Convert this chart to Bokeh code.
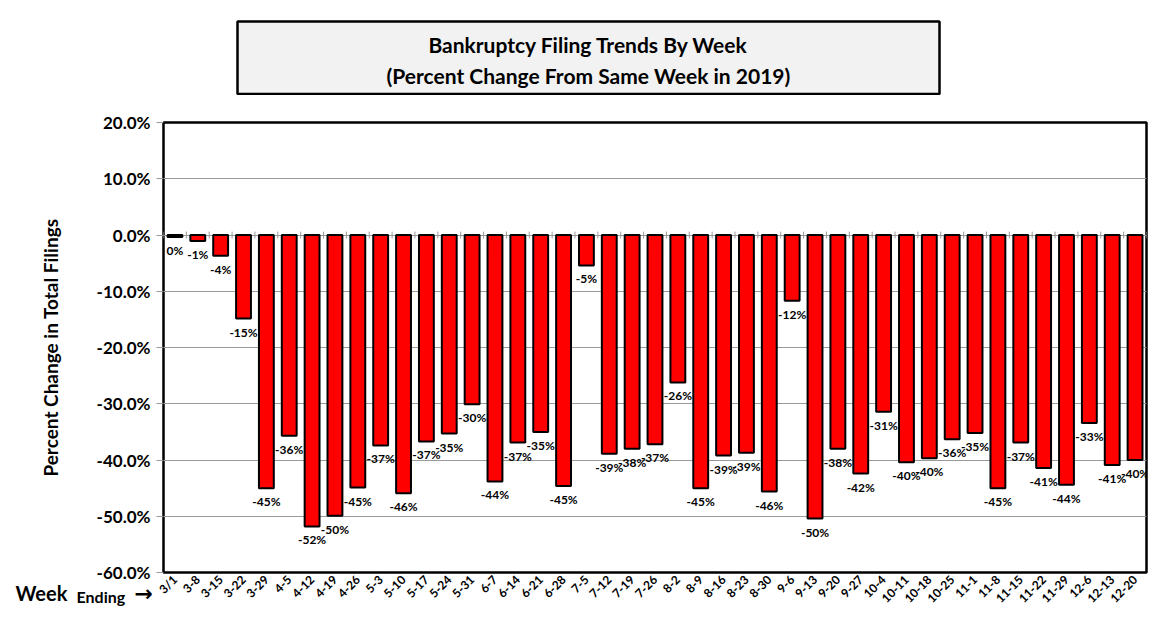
from bokeh.plotting import figure
from bokeh.layouts import column
from bokeh.models import (FactorRange, FixedTicker, PrintfTickFormatter, Range1d,
                          Label, ColumnDataSource)
from bokeh.core.properties import value
from bokeh.embed import file_html
from bokeh.resources import INLINE
import math

weeks = ["3/1", "3-8", "3-15", "3-22", "3-29", "4-5", "4-12", "4-19", "4-26",
         "5-3", "5-10", "5-17", "5-24", "5-31", "6-7", "6-14", "6-21", "6-28",
         "7-5", "7-12", "7-19", "7-26", "8-2", "8-9", "8-16", "8-23", "8-30",
         "9-6", "9-13", "9-20", "9-27", "10-4", "10-11", "10-18", "10-25",
         "11-1", "11-8", "11-15", "11-22", "11-29", "12-6", "12-13", "12-20"]
pct_change = [-0.35, -1.07, -3.7, -14.85, -45.0, -35.7, -51.8, -49.9, -44.9,
              -37.4, -45.9, -36.7, -35.3, -30.1, -43.8, -36.9, -35.0, -44.6,
              -5.4, -38.9, -38.0, -37.2, -26.2, -45.0, -39.2, -38.7, -45.6,
              -11.7, -50.4, -38.0, -42.4, -31.4, -40.4, -39.7, -36.3,
              -35.2, -45.0, -36.9, -41.4, -44.4, -33.4, -40.9, -40.0]
y_ticks = [-60, -50, -40, -30, -20, -10, 0, 10, 20]

title_lines = ["Bankruptcy Filing Trends By Week", "(Percent Change From Same Week in 2019)"]
y_title = "Percent Change in Total Filings"
note_words = ["Week", "Ending", "\u2192"]

labels = [f"{int(round(v))}%" for v in pct_change]

FONT = "Lato"
W = 1157
FRAME_L, FRAME_R = 163, 1146

# ---------------- title panel (separate small figure, frame aligned with chart) ----------------
TH = 95
t = figure(width=W, height=TH, x_range=Range1d(FRAME_L, FRAME_R), y_range=Range1d(TH, 0),
           output_backend="svg", toolbar_location=None,
           x_axis_location=None, y_axis_location=None, min_border=0)
t.grid.grid_line_color = None
t.outline_line_color = None
t.background_fill_color = "white"
t.border_fill_color = "white"
t.quad(left=[237], right=[939], top=[21], bottom=[93.5],
       fill_color="#f2f2f2", line_color="black", line_width=2.5)
t.text(x=[588, 588], y=[44, 75], text=title_lines, text_align="center",
       text_baseline="middle", text_font=value(FONT), text_font_style="bold",
       text_font_size="21px", text_color="black")

# ---------------- main chart ----------------
src = ColumnDataSource(dict(week=weeks, v=pct_change, lab=labels))

p = figure(width=W, height=633 - TH, x_range=FactorRange(*weeks, range_padding=0),
           y_range=Range1d(-60, 20), output_backend="svg", toolbar_location=None,
           min_border_left=FRAME_L, min_border_top=122 - TH, min_border_right=W - FRAME_R,
           min_border_bottom=61)
p.background_fill_color = "white"
p.border_fill_color = "white"
p.outline_line_color = "black"
p.outline_line_width = 2.5

p.xgrid.grid_line_color = None
p.ygrid.ticker = FixedTicker(ticks=y_ticks)
p.ygrid.grid_line_color = "#9a9a9a"
p.ygrid.grid_line_width = 1

p.yaxis.ticker = FixedTicker(ticks=y_ticks)
p.yaxis.formatter = PrintfTickFormatter(format="%.1f%%")
p.yaxis.axis_line_color = None
p.yaxis.major_tick_line_color = "#9a9a9a"
p.yaxis.major_tick_out = 7
p.yaxis.major_tick_in = 0
p.yaxis.minor_tick_line_color = None
p.yaxis.major_label_text_font = FONT
p.yaxis.major_label_text_font_style = "bold"
p.yaxis.major_label_text_font_size = "17px"
p.yaxis.major_label_text_color = "black"
p.yaxis.major_label_standoff = 6
p.yaxis.axis_label = y_title
p.yaxis.axis_label_text_font = FONT
p.yaxis.axis_label_text_font_style = "bold"
p.yaxis.axis_label_text_font_size = "19px"
p.yaxis.axis_label_text_color = "black"
p.yaxis.axis_label_standoff = 32

p.xaxis.axis_line_color = None
p.xaxis.major_tick_line_color = None
p.xaxis.major_tick_out = 0
p.xaxis.major_tick_in = 0
p.xaxis.minor_tick_line_color = None
p.xaxis.minor_tick_out = 0
p.xaxis.major_label_orientation = math.pi / 4
p.xaxis.major_label_text_font = FONT
p.xaxis.major_label_text_font_style = "bold"
p.xaxis.major_label_text_font_size = "12px"
p.xaxis.major_label_text_color = "black"
p.xaxis.major_label_standoff = 5

p.vbar(x="week", top="v", bottom=0, width=0.65, source=src,
       fill_color="#ff0000", line_color="black", line_width=2)

bounds = list(range(len(weeks) + 1))
p.segment(x0=bounds, y0=[-0.6] * len(bounds), x1=bounds, y1=[0.6] * len(bounds),
          line_color="#9a9a9a", line_width=1)

p.text(x="week", y="v", text="lab", source=src, text_align="center",
       text_baseline="top", y_offset=6, text_font=value(FONT),
       text_font_style="bold", text_font_size="12px", text_color="black")

# "Week Ending ->" note: labels live in side panels (not clipped), positioned in data units
px_per_cat = (FRAME_R - FRAME_L) / len(weeks)
px_per_pct = 450 / 80.0
def dx(page_x):
    return (page_x - FRAME_L) / px_per_cat
def dy(page_y):
    return -60 - (page_y - 572) / px_per_pct

p.add_layout(Label(x=dx(15), y=dy(592), text=note_words[0], text_align="left",
                   text_baseline="middle", text_font=FONT, text_font_style="bold",
                   text_font_size="20px", text_color="black"), "above")
p.add_layout(Label(x=dx(76), y=dy(596), text=note_words[1], text_align="left",
                   text_baseline="middle", text_font=FONT, text_font_style="bold",
                   text_font_size="16px", text_color="black"), "below")
p.add_layout(Label(x=dx(134), y=dy(593), text=note_words[2], text_align="left",
                   text_baseline="middle", text_font="DejaVu Sans", text_font_style="bold",
                   text_font_size="22px", text_color="black"), "left")

open("out.html", "w").write(file_html(column(t, p, spacing=0), INLINE))
